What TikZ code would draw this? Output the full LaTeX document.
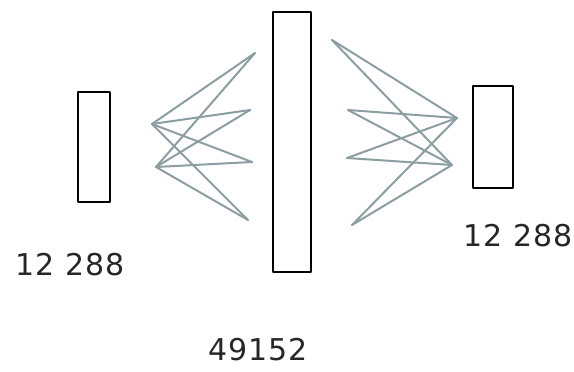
\documentclass[tikz,border=0pt]{standalone}
\usepackage{fontspec}
\setmainfont{DejaVu Sans}
\begin{document}
\begin{tikzpicture}[x=1pt,y=-1pt,
  layer/.style={draw=black,line width=2.8pt,line join=round},
  wire/.style={draw=wirecol,line width=2pt,line cap=round},
  lbl/.style={font=\fontsize{30}{32}\selectfont\addfontfeature{LetterSpace=3},text=black!85}]
\definecolor{wirecol}{RGB}{140,158,162}
\useasboundingbox (0,0) rectangle (574,372);
% boxes
\node[layer,minimum width=32pt,minimum height=110pt,inner sep=0pt] (L) at (94,147) {};
\node[layer,minimum width=38pt,minimum height=260pt,inner sep=0pt] (C) at (292,142) {};
\node[layer,minimum width=40pt,minimum height=102pt,inner sep=0pt] (R) at (493,137) {};
% left fan endpoints
\coordinate (la1) at (152,124);
\coordinate (la2) at (156,167);
\coordinate (lb1) at (255,53);
\coordinate (lb2) at (250,110);
\coordinate (lb3) at (252,162);
\coordinate (lb4) at (248,220);
\foreach \a in {la1,la2}{
  \foreach \b in {lb1,lb2,lb3,lb4}{
    \draw[wire] (\a) -- (\b);
  }
}
% right fan endpoints
\coordinate (ra1) at (332,40);
\coordinate (ra2) at (348,110);
\coordinate (ra3) at (347,158);
\coordinate (ra4) at (352,225);
\coordinate (rb1) at (457,118);
\coordinate (rb2) at (452,165);
\foreach \a in {ra1,ra2,ra3,ra4}{
  \foreach \b in {rb1,rb2}{
    \draw[wire] (\a) -- (\b);
  }
}
% labels
\node[lbl] (tl) at (70,265) {12 288};
\node[lbl] (tr) at (518,236) {12 288};
\node[lbl] (tc) at (258,350) {49152};
\end{tikzpicture}
\end{document}
